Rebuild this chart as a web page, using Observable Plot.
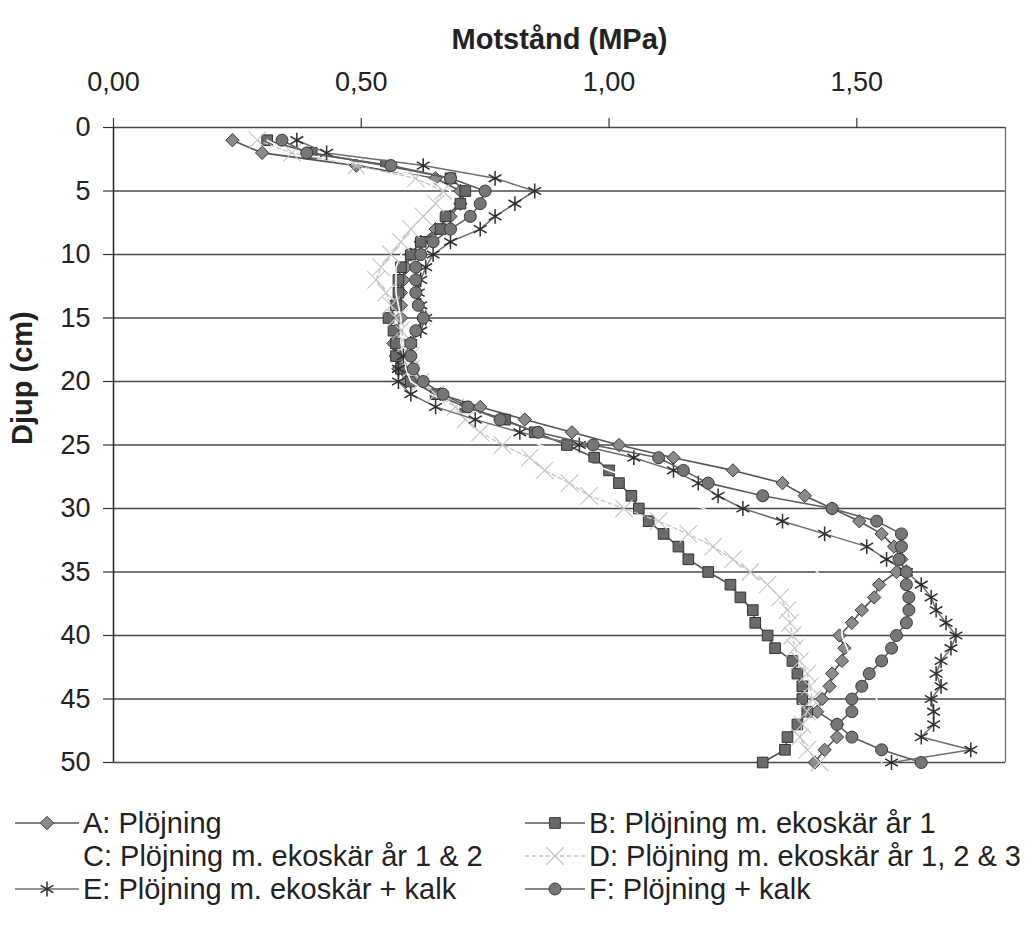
<!DOCTYPE html>
<html><head><meta charset="utf-8">
<script src="https://cdn.jsdelivr.net/npm/d3@7"></script>
<script src="https://cdn.jsdelivr.net/npm/@observablehq/plot@0.6"></script>
<style>
body{margin:0;background:#fff;font-family:"Liberation Sans",Arial,Helvetica,sans-serif;}
#chart svg{display:block;}
#legend{position:relative;height:152px;width:1031px;}
.item{position:absolute;display:flex;align-items:center;height:34px;font-size:29px;color:#222;white-space:nowrap;}
.item svg{flex:none;margin-right:4px;}
</style></head><body>
<div id="chart"></div>
<div id="legend"></div>
<script>
const depth = [1,2,3,4,5,6,7,8,9,10,11,12,13,14,15,16,17,18,19,20,21,22,23,24,25,26,27,28,29,30,31,32,33,34,35,36,37,38,39,40,41,42,43,44,45,46,47,48,49,50];

const seriesA = [0.24,0.30,0.49,0.65,0.70,0.70,0.68,0.65,0.62,0.60,0.59,0.585,0.58,0.58,0.58,0.57,0.565,0.57,0.575,0.59,0.66,0.74,0.83,0.925,1.02,1.13,1.25,1.35,1.395,1.45,1.505,1.55,1.575,1.59,1.58,1.545,1.535,1.51,1.49,1.465,1.475,1.47,1.45,1.445,1.43,1.42,1.46,1.46,1.435,1.415];
const seriesB = [0.31,0.40,0.55,0.68,0.71,0.70,0.67,0.66,0.62,0.60,0.58,0.575,0.575,0.57,0.555,0.565,0.57,0.57,0.58,0.60,0.65,0.71,0.79,0.85,0.915,0.97,1.00,1.02,1.045,1.06,1.08,1.11,1.14,1.16,1.20,1.245,1.265,1.29,1.295,1.32,1.335,1.37,1.38,1.39,1.39,1.40,1.38,1.36,1.355,1.31];
const seriesC = [0.31,0.36,0.52,0.63,0.68,0.67,0.65,0.62,0.60,0.58,0.57,0.57,0.57,0.575,0.58,0.58,0.58,0.585,0.59,0.60,0.64,0.70,0.76,0.81,0.86,0.93,1.00,1.07,1.13,1.19,1.25,1.30,1.35,1.39,1.42,1.44,1.46,1.47,1.47,1.47,1.48,1.49,1.50,1.52,1.54,1.55,1.55,1.55,1.55,1.55];
const seriesD = [0.29,0.36,0.49,0.61,0.665,0.65,0.625,0.60,0.58,0.56,0.54,0.53,0.55,0.56,0.57,0.58,0.59,0.60,0.60,0.62,0.65,0.69,0.71,0.74,0.785,0.84,0.87,0.92,0.96,1.03,1.10,1.16,1.21,1.25,1.285,1.32,1.345,1.36,1.365,1.37,1.375,1.385,1.40,1.405,1.41,1.40,1.39,1.385,1.40,1.425];
const seriesE = [0.37,0.43,0.625,0.77,0.85,0.81,0.77,0.74,0.68,0.645,0.63,0.62,0.615,0.62,0.63,0.62,0.60,0.585,0.575,0.575,0.60,0.65,0.73,0.82,0.94,1.05,1.13,1.18,1.22,1.27,1.35,1.435,1.52,1.56,1.60,1.63,1.65,1.66,1.68,1.70,1.69,1.67,1.66,1.67,1.65,1.655,1.655,1.63,1.73,1.57];
const seriesF = [0.34,0.39,0.56,0.68,0.75,0.74,0.72,0.68,0.645,0.62,0.61,0.61,0.61,0.615,0.625,0.61,0.60,0.60,0.605,0.625,0.665,0.715,0.78,0.857,0.968,1.10,1.15,1.20,1.31,1.45,1.54,1.59,1.59,1.585,1.60,1.60,1.605,1.605,1.60,1.58,1.57,1.55,1.525,1.51,1.49,1.49,1.46,1.49,1.55,1.63];

const seriesKeys = ["A","B","C","D","E","F"];
const seriesLabels = ["A: Plöjning","B: Plöjning m. ekoskär år 1","C: Plöjning m. ekoskär år 1 & 2","D: Plöjning m. ekoskär år 1, 2 & 3","E: Plöjning m. ekoskär + kalk","F: Plöjning + kalk"];
const seriesValues = [seriesA, seriesB, seriesC, seriesD, seriesE, seriesF];

const xTicks = [0, 0.5, 1, 1.5];
const yTicks = [0,5,10,15,20,25,30,35,40,45,50];
const xTitle = "Motstånd (MPa)";
const yTitle = "Djup (cm)";

const styles = {
  A:{line:"#555", lw:1.6, dash:null, symbol:"diamond2", r:6, fill:"#8a8a8a", stroke:"#3a3a3a", sw:1},
  B:{line:"#555", lw:1.6, dash:null, symbol:"square", r:6, fill:"#6a6a6a", stroke:"#333", sw:1},
  C:{line:"#fff", lw:1.6, dash:null, symbol:null},
  D:{line:"#c4c4c4", lw:1.3, dash:"4,3", symbol:"times", r:8, fill:"none", stroke:"#c4c4c4", sw:1.1},
  E:{line:"#6e6e6e", lw:1.5, dash:null, symbol:"asterisk", r:7, fill:"none", stroke:"#2e2e2e", sw:1.5},
  F:{line:"#5e5e5e", lw:1.6, dash:null, symbol:"circle", r:6, fill:"#767676", stroke:"#3a3a3a", sw:1}
};

const rows = [];
seriesKeys.forEach((k, si) => {
  depth.forEach((d, i) => rows.push({serie:k, depth:d, value:seriesValues[si][i]}));
});

const fmt = v => v.toFixed(2).replace(".", ",");

const marks = [
  Plot.ruleY(yTicks, {y: d => d, stroke:"#4a4a4a", strokeWidth:1.4}),
  Plot.ruleX([1.8], {x: d => d, stroke:"#707070", strokeWidth:1.3}),
  Plot.ruleX([0], {x: d => d, stroke:"#222", strokeWidth:1.5}),
  Plot.axisX(xTicks, {anchor:"top", tickSize:10, tickPadding:27, tickFormat:fmt, fontSize:27, fill:"#222", stroke:"#333", strokeWidth:1.2, label:null}),
  Plot.axisY(yTicks, {anchor:"left", tickSize:10, tickPadding:13, fontSize:27, fill:"#222", stroke:"#333", strokeWidth:1.2, label:null}),
];

seriesKeys.forEach(k => {
  const s = styles[k];
  const data = rows.filter(r => r.serie === k);
  marks.push(Plot.line(data, {x:"value", y:"depth", stroke:s.line, strokeWidth:s.lw, strokeDasharray:s.dash, curve:"linear"}));
  if (s.symbol) {
    marks.push(Plot.dot(data, {x:"value", y:"depth", symbol:s.symbol, r:s.r, fill:s.fill, stroke:s.stroke, strokeWidth:s.sw}));
  }
});

marks.push(Plot.text([xTitle], {frameAnchor:"top", dy:-99, fontSize:29, fontWeight:"bold", fill:"#222"}));
marks.push(Plot.text([yTitle], {frameAnchor:"left", dx:-91, rotate:-90, fontSize:29, fontWeight:"bold", fill:"#222"}));

const chart = Plot.plot({
  width:1031, height:790,
  marginTop:127, marginBottom:28, marginLeft:113, marginRight:26,
  style:{fontFamily:'"Liberation Sans", Arial, Helvetica, sans-serif', background:"#fff"},
  x:{domain:[0,1.8], axis:null},
  y:{domain:[0,50], reverse:true, axis:null},
  marks
});
document.getElementById("chart").appendChild(chart);

// legend
const legend = d3.select("#legend");
const symbolTypes = {diamond2:d3.symbolDiamond2, square:d3.symbolSquare, times:d3.symbolTimes, asterisk:d3.symbolAsterisk, circle:d3.symbolCircle};
const legendPos = [
  {left:15, top:16, w:64}, {left:525, top:16, w:60},
  {left:15, top:49, w:64}, {left:525, top:49, w:60},
  {left:15, top:82, w:64}, {left:525, top:82, w:60}
];
seriesKeys.forEach((k, i) => {
  const s = styles[k], p = legendPos[i];
  const item = legend.append("div").attr("class","item").style("left", p.left+"px").style("top", p.top+"px");
  const svg = item.append("svg").attr("width", p.w).attr("height", 24);
  if (s.symbol) {
    svg.append("line").attr("x1",0).attr("x2",p.w).attr("y1",12).attr("y2",12)
      .attr("stroke", s.line).attr("stroke-width", s.lw).attr("stroke-dasharray", s.dash);
    svg.append("path").attr("transform",`translate(${p.w/2},12)`)
      .attr("d", d3.symbol(symbolTypes[s.symbol], Math.PI*s.r*s.r)())
      .attr("fill", s.fill).attr("stroke", s.stroke).attr("stroke-width", s.sw);
  }
  item.append("span").text(seriesLabels[i]);
});
</script>
</body></html>
